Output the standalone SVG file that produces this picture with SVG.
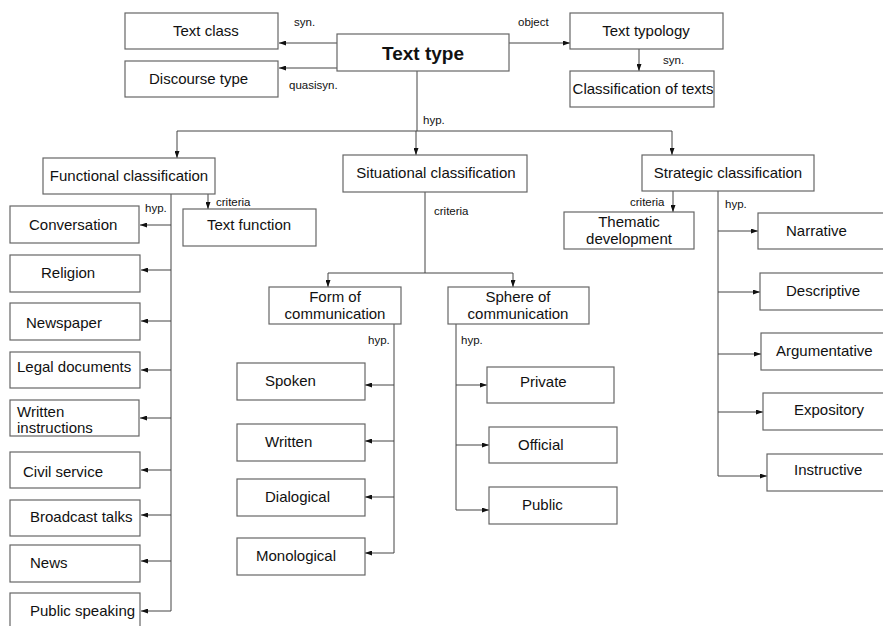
<svg xmlns="http://www.w3.org/2000/svg" width="883" height="626" viewBox="0 0 883 626">
<defs>
<marker id="ah" viewBox="0 0 7 5" refX="7" refY="2.5" markerWidth="7" markerHeight="5" markerUnits="userSpaceOnUse" orient="auto">
<path d="M0,0 L7,2.5 L0,5 z" fill="#111"/>
</marker>
<style>
.box{fill:#fff;stroke:#666;stroke-width:1.2}
.t{font-family:"Liberation Sans",Arial,sans-serif;font-size:15px;fill:#111}
.b{font-family:"Liberation Sans",Arial,sans-serif;font-size:19px;font-weight:bold;fill:#111}
.l{font-family:"Liberation Sans",Arial,sans-serif;font-size:11.5px;fill:#111}
.c{fill:none;stroke:#444;stroke-width:1}
.a{fill:none;stroke:#444;stroke-width:1;marker-end:url(#ah)}
</style>
</defs>
<rect width="883" height="626" fill="#fff"/>
<g id="connectors">
<path class="a" d="M337,43 H279"/>
<path class="a" d="M337,68 H279"/>
<path class="a" d="M509,43 H570"/>
<path class="a" d="M639,49 V71"/>
<path class="c" d="M417,71 V131"/>
<path class="c" d="M177,131 H672"/>
<path class="a" d="M177,131 V158"/>
<path class="a" d="M416,131 V155"/>
<path class="a" d="M672,131 V155"/>
<path class="a" d="M208,194 V209"/>
<path class="c" d="M171,194 V611"/>
<path class="a" d="M171,225 H140"/>
<path class="a" d="M171,270 H141"/>
<path class="a" d="M171,321 H141"/>
<path class="a" d="M171,370 H141"/>
<path class="a" d="M171,418 H140"/>
<path class="a" d="M171,470 H141"/>
<path class="a" d="M171,515 H141"/>
<path class="a" d="M171,561 H141"/>
<path class="a" d="M171,611 H141"/>
<path class="c" d="M425,192 V273"/>
<path class="c" d="M328,273 H513"/>
<path class="a" d="M328,273 V287"/>
<path class="a" d="M513,273 V287"/>
<path class="c" d="M394,324 V553"/>
<path class="a" d="M394,385 H365"/>
<path class="a" d="M394,441 H365"/>
<path class="a" d="M394,497 H365"/>
<path class="a" d="M394,553 H365"/>
<path class="c" d="M456,324 V510"/>
<path class="a" d="M456,385 H487"/>
<path class="a" d="M456,445 H489"/>
<path class="a" d="M456,510 H489"/>
<path class="a" d="M673,191 V212"/>
<path class="c" d="M718,191 V476"/>
<path class="a" d="M718,231 H758"/>
<path class="a" d="M718,292 H760"/>
<path class="a" d="M718,354 H761"/>
<path class="a" d="M718,412 H763"/>
<path class="a" d="M718,476 H767"/>
<text class="l" x="294" y="26">syn.</text>
<text class="l" x="289" y="89">quasisyn.</text>
<text class="l" x="518" y="26">object</text>
<text class="l" x="663" y="64">syn.</text>
<text class="l" x="423" y="124">hyp.</text>
<text class="l" x="145" y="212">hyp.</text>
<text class="l" x="216" y="206">criteria</text>
<text class="l" x="434" y="215">criteria</text>
<text class="l" x="368" y="344">hyp.</text>
<text class="l" x="461" y="344">hyp.</text>
<text class="l" x="630" y="206">criteria</text>
<text class="l" x="725" y="208">hyp.</text>
</g>
<g id="text-class"><rect class="box" x="125" y="13" width="153" height="36"/><text class="t" x="173" y="36">Text class</text></g>
<g id="discourse-type"><rect class="box" x="125" y="61" width="153" height="36"/><text class="t" x="149" y="84">Discourse type</text></g>
<g id="text-type"><rect class="box" x="337" y="34" width="172" height="37"/><text class="b" x="423" y="60" text-anchor="middle">Text type</text></g>
<g id="text-typology"><rect class="box" x="570" y="13" width="153" height="36"/><text class="t" x="646" y="36" text-anchor="middle">Text typology</text></g>
<g id="classification-of-texts"><rect class="box" x="570" y="71" width="144" height="36"/><text class="t" x="643" y="94" text-anchor="middle">Classification of texts</text></g>
<g id="functional"><rect class="box" x="43" y="158" width="172" height="36"/><text class="t" x="129" y="181" text-anchor="middle">Functional classification</text></g>
<g id="text-function"><rect class="box" x="183" y="209" width="133" height="37"/><text class="t" x="249" y="230" text-anchor="middle">Text function</text></g>
<g id="conversation"><rect class="box" x="10" y="206" width="129" height="37"/><text class="t" x="29" y="230">Conversation</text></g>
<g id="religion"><rect class="box" x="10" y="255" width="130" height="37"/><text class="t" x="41" y="278">Religion</text></g>
<g id="newspaper"><rect class="box" x="10" y="303" width="130" height="37"/><text class="t" x="26" y="328">Newspaper</text></g>
<g id="legal-documents"><rect class="box" x="10" y="352" width="130" height="36"/><text class="t" x="17" y="372">Legal documents</text></g>
<g id="written-instructions"><rect class="box" x="10" y="400" width="129" height="36"/><text class="t" x="17" y="417">Written</text><text class="t" x="17" y="433">instructions</text></g>
<g id="civil-service"><rect class="box" x="10" y="452" width="130" height="36"/><text class="t" x="23" y="477">Civil service</text></g>
<g id="broadcast-talks"><rect class="box" x="10" y="500" width="130" height="36"/><text class="t" x="30" y="522">Broadcast talks</text></g>
<g id="news"><rect class="box" x="10" y="545" width="130" height="37"/><text class="t" x="30" y="568">News</text></g>
<g id="public-speaking"><rect class="box" x="10" y="593" width="130" height="40"/><text class="t" x="30" y="616">Public speaking</text></g>
<g id="situational"><rect class="box" x="343" y="155" width="184" height="37"/><text class="t" x="436" y="178" text-anchor="middle">Situational classification</text></g>
<g id="form"><rect class="box" x="269" y="287" width="132" height="37"/><text class="t" x="335" y="302" text-anchor="middle">Form of</text><text class="t" x="335" y="319" text-anchor="middle">communication</text></g>
<g id="sphere"><rect class="box" x="448" y="287" width="141" height="37"/><text class="t" x="518" y="302" text-anchor="middle">Sphere of</text><text class="t" x="518" y="319" text-anchor="middle">communication</text></g>
<g id="spoken"><rect class="box" x="237" y="363" width="128" height="37"/><text class="t" x="265" y="386">Spoken</text></g>
<g id="written"><rect class="box" x="237" y="424" width="128" height="37"/><text class="t" x="265" y="447">Written</text></g>
<g id="dialogical"><rect class="box" x="237" y="479" width="128" height="37"/><text class="t" x="265" y="502">Dialogical</text></g>
<g id="monological"><rect class="box" x="237" y="538" width="128" height="37"/><text class="t" x="256" y="561">Monological</text></g>
<g id="private"><rect class="box" x="487" y="367" width="127" height="36"/><text class="t" x="520" y="387">Private</text></g>
<g id="official"><rect class="box" x="489" y="427" width="128" height="36"/><text class="t" x="518" y="450">Official</text></g>
<g id="public"><rect class="box" x="489" y="487" width="128" height="37"/><text class="t" x="522" y="510">Public</text></g>
<g id="strategic"><rect class="box" x="642" y="155" width="172" height="36"/><text class="t" x="728" y="178" text-anchor="middle">Strategic classification</text></g>
<g id="thematic"><rect class="box" x="564" y="212" width="130" height="37"/><text class="t" x="629" y="227" text-anchor="middle">Thematic</text><text class="t" x="629" y="244" text-anchor="middle">development</text></g>
<g id="narrative"><rect class="box" x="758" y="213" width="132" height="36"/><text class="t" x="786" y="236">Narrative</text></g>
<g id="descriptive"><rect class="box" x="760" y="273" width="130" height="37"/><text class="t" x="786" y="296">Descriptive</text></g>
<g id="argumentative"><rect class="box" x="761" y="333" width="129" height="37"/><text class="t" x="776" y="356">Argumentative</text></g>
<g id="expository"><rect class="box" x="763" y="393" width="127" height="37"/><text class="t" x="794" y="415">Expository</text></g>
<g id="instructive"><rect class="box" x="767" y="454" width="123" height="37"/><text class="t" x="794" y="475">Instructive</text></g>
</svg>
